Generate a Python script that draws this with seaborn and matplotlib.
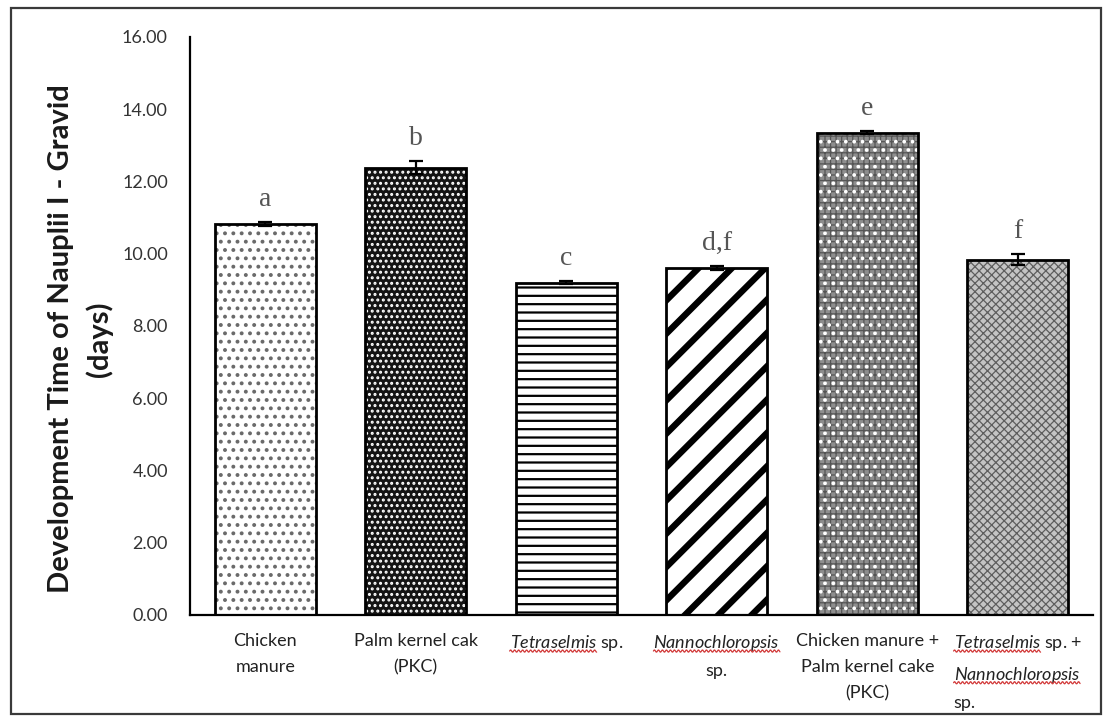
import numpy as np
import pandas as pd
import matplotlib
matplotlib.use("Agg")
import matplotlib.pyplot as plt
import seaborn as sns
from matplotlib.patches import Rectangle
from matplotlib.lines import Line2D
from matplotlib.transforms import IdentityTransform

# ---- data -------------------------------------------------------------
treatments = [
    "Chicken manure",
    "Palm kernel cake (PKC)",
    "Tetraselmis sp.",
    "Nannochloropsis sp.",
    "Chicken manure + PKC",
    "Tetraselmis sp. + Nannochloropsis sp.",
]
tick_labels = [
    "Chicken\nmanure",
    "Palm kernel cak\n(PKC)",
    r"$\it{Tetraselmis}$ sp.",
    "$\\it{Nannochloropsis}$\nsp.",
    "Chicken manure +\nPalm kernel cake\n(PKC)",
    "$\\it{Tetraselmis}$ sp. +\n$\\it{Nannochloropsis}$\nsp.",
]
italic_words = [[], [], ["Tetraselmis"], ["Nannochloropsis"], [],
                ["Tetraselmis", "Nannochloropsis"]]
mean_days = [10.83, 12.38, 9.20, 9.61, 13.35, 9.83]
se_days = [0.05, 0.18, 0.05, 0.06, 0.04, 0.15]
letters = ["a", "b", "c", "d,f", "e", "f"]
y_ticks = [0, 2, 4, 6, 8, 10, 12, 14, 16]

# ---- style ------------------------------------------------------------
sns.set_style("white")
plt.rcParams["font.family"] = ["Lato", "DejaVu Sans"]
plt.rcParams["mathtext.fontset"] = "custom"
plt.rcParams["mathtext.rm"] = "Lato"
plt.rcParams["mathtext.it"] = "Lato:italic"
plt.rcParams["mathtext.bf"] = "Lato:bold"

df = pd.DataFrame({"treatment": treatments, "days": mean_days})

fig = plt.figure(figsize=(11.1, 7.22), dpi=100)
ax = fig.add_axes([0.1712, 0.1482, 0.8135, 0.8006])

sns.barplot(data=df, x="treatment", y="days", color="white",
            edgecolor="black", linewidth=0, width=0.67, errorbar=None,
            ax=ax, zorder=2)

# fill patterns: (face, hatch colour, hatch, hatch width), optional second layer
fills = [
    ("white", "#6a6a6a", "..", 1.6, None),
    ("#141414", "white", "...", 1.4, None),
    ("white", "black", "--", 1.6, None),
    ("white", "black", "/", 4.6, None),
    ("#8e8e8e", "#555555", "+++", 0.9, ("white", "..", 1.5)),
    ("#c4c4c4", "#5e5e5e", "xxxx", 0.9, None),
]

bars = list(ax.patches)
for p, (face, hcol, hatch, hlw, extra) in zip(bars, fills):
    p.set_facecolor(face)
    p.set_edgecolor(hcol)
    p.set_hatch(hatch)
    p.set_linewidth(0)
    if hasattr(p, "set_hatch_linewidth"):
        p.set_hatch_linewidth(hlw)
    if extra is not None:
        col2, h2, lw2 = extra
        r2 = Rectangle(p.get_xy(), p.get_width(), p.get_height(),
                       facecolor="none", edgecolor=col2, hatch=h2,
                       linewidth=0, zorder=2.1)
        if hasattr(r2, "set_hatch_linewidth"):
            r2.set_hatch_linewidth(lw2)
        ax.add_patch(r2)
    ax.add_patch(Rectangle(p.get_xy(), p.get_width(), p.get_height(),
                           facecolor="none", edgecolor="black",
                           linewidth=2.0, zorder=2.5))

xpos = np.arange(len(mean_days))
ax.errorbar(xpos, mean_days, yerr=se_days, fmt="none", ecolor="black",
            elinewidth=1.6, capsize=5, capthick=1.6, zorder=3)

for x, m, s, lab in zip(xpos, mean_days, se_days, letters):
    ax.annotate(lab, xy=(x, m + s), xytext=(0, 11.5),
                textcoords="offset points", ha="center", va="baseline",
                fontsize=20, family="Liberation Serif", color="#555555")

# ---- axes -------------------------------------------------------------
ax.set_xlim(-0.5, len(mean_days) - 0.5)
ax.set_ylim(0, 16)
ax.set_yticks(y_ticks)
ax.set_yticklabels([f"{v:.2f}" for v in y_ticks], fontsize=13, color="#333333")
ax.set_xticks(xpos)
ax.set_xticklabels(tick_labels, fontsize=13, color="#222222", linespacing=1.78)
ax.get_xticklabels()[-1].set_multialignment("left")
ax.tick_params(axis="both", length=0)
ax.tick_params(axis="y", pad=16)
ax.tick_params(axis="x", pad=13)
ax.set_xlabel("")
ax.set_ylabel("Development Time of Nauplii I - Gravid\n(days)",
              fontsize=21, fontweight="bold", color="#1a1a1a", linespacing=1.5)
ax.yaxis.set_label_coords(-0.085, 0.4775)

for side in ("top", "right"):
    ax.spines[side].set_visible(False)
for side in ("left", "bottom"):
    ax.spines[side].set_linewidth(1.6)
    ax.spines[side].set_color("black")

# frame around the whole figure
fig.add_artist(Rectangle((0.0099, 0.011), 0.982, 0.978,
                         transform=fig.transFigure, facecolor="none",
                         edgecolor="#3a3a3a", linewidth=1.6))

# red spell-check squiggles under the italic species names
fig.canvas.draw()
renderer = fig.canvas.get_renderer()
for t, words in zip(ax.get_xticklabels(), italic_words):
    if not words:
        continue
    _, info, _ = t._get_layout(renderer)
    px, py = t.get_transform().transform(t.get_position())
    prop = t.get_fontproperties()
    for word in words:
        for line, (w, h), lx, ly in info:
            if word in line:
                ww, _, _ = renderer.get_text_width_height_descent(
                    "$\\it{" + word + "}$", prop, ismath=True)
                x0 = px + lx
                yb = py + ly - 3
                xs = np.arange(x0, x0 + ww, 0.5)
                ys = yb + 1.1 * np.sin(2 * np.pi * (xs - x0) / 4.0)
                fig.add_artist(Line2D(xs, ys, transform=IdentityTransform(),
                                      color="#d23b3b", linewidth=0.9))
                break

fig.savefig("out.png", dpi=100)
